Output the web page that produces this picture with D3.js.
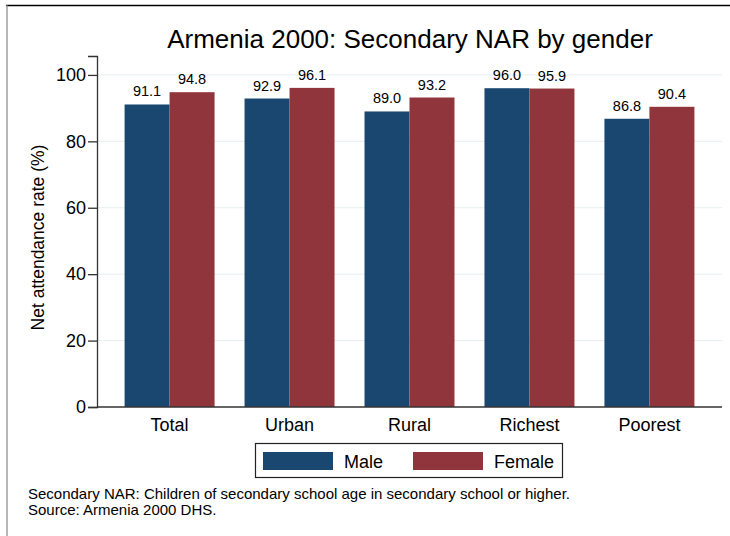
<!DOCTYPE html>
<html>
<head>
<meta charset="utf-8">
<script src="https://cdn.jsdelivr.net/npm/d3@7"></script>
<style>
  body { margin: 0; background: #fff; }
  svg { display: block; font-family: "Liberation Sans", Arial, sans-serif; }
</style>
</head>
<body>
<svg id="chart" width="730" height="536"></svg>
<script>
// data
const categories = ["Total", "Urban", "Rural", "Richest", "Poorest"];
const seriesNames = ["Male", "Female"];
const maleValues = [91.1, 92.9, 89.0, 96.0, 86.8];
const femaleValues = [94.8, 96.1, 93.2, 95.9, 90.4];
const yTicks = [0, 20, 40, 60, 80, 100];
const titleText = "Armenia 2000: Secondary NAR by gender";
const yLabel = "Net attendance rate (%)";
const notes = [
  "Secondary NAR: Children of secondary school age in secondary school or higher.",
  "Source: Armenia 2000 DHS."
];

const colors = { Male: "#1a476f", Female: "#90353b" };
const width = 730, height = 536;
const plot = { left: 97, right: 722, top: 56, bottom: 407 };

const svg = d3.select("#chart");

// outer frame (cropped stata border)
svg.append("line").attr("x1", 6).attr("x2", 730).attr("y1", 5.5).attr("y2", 5.5)
  .attr("stroke", "#000").attr("stroke-width", 1.5);
svg.append("line").attr("x1", 7).attr("x2", 7).attr("y1", 5).attr("y2", 536)
  .attr("stroke", "#888").attr("stroke-width", 1.2);

const x = d3.scaleBand().domain(categories)
  .range([plot.left, plot.right]).paddingInner(0.25).paddingOuter(0.23);
const xs = d3.scaleBand().domain(seriesNames).range([0, x.bandwidth()]);
const y = d3.scaleLinear().domain([0, 105.7]).range([plot.bottom, plot.top]);

// gridlines
svg.append("g").selectAll("line")
  .data(yTicks.filter(d => d > 0))
  .join("line")
  .attr("x1", plot.left).attr("x2", plot.right)
  .attr("y1", d => y(d)).attr("y2", d => y(d))
  .attr("stroke", "#e6eff2").attr("stroke-width", 1);

// bars
const rows = categories.map((c, i) => ({ cat: c, Male: maleValues[i], Female: femaleValues[i] }));
const groups = svg.append("g").selectAll("g")
  .data(rows).join("g")
  .attr("transform", d => `translate(${x(d.cat)},0)`);

groups.selectAll("rect")
  .data(d => seriesNames.map(s => ({ s, v: d[s] })))
  .join("rect")
  .attr("x", d => xs(d.s))
  .attr("width", xs.bandwidth())
  .attr("y", d => y(d.v))
  .attr("height", d => y(0) - y(d.v))
  .attr("fill", d => colors[d.s]);

groups.selectAll("text")
  .data(d => seriesNames.map(s => ({ s, v: d[s] })))
  .join("text")
  .attr("x", d => xs(d.s) + xs.bandwidth() / 2)
  .attr("y", d => y(d.v) - 8)
  .attr("text-anchor", "middle")
  .attr("font-size", 14.5)
  .text(d => d.v.toFixed(1));

// y axis
const yAxis = svg.append("g")
  .attr("transform", `translate(${plot.left},0)`)
  .call(d3.axisLeft(y).tickValues(yTicks).tickSize(9).tickPadding(2));
yAxis.select(".domain").attr("stroke", "#333").attr("stroke-width", 1.3);
yAxis.selectAll(".tick line").attr("stroke", "#333").attr("stroke-width", 1.3);
yAxis.selectAll(".tick text").attr("font-size", 18).attr("fill", "#000")
  .attr("font-family", "Liberation Sans, Arial, sans-serif");

// x axis
const xAxis = svg.append("g")
  .attr("transform", `translate(0,${plot.bottom})`)
  .call(d3.axisBottom(x).tickSize(0).tickPadding(11).tickSizeOuter(0));
xAxis.select(".domain").attr("stroke", "#333").attr("stroke-width", 1.5)
  .attr("d", `M${plot.left},0H${plot.right}`);
xAxis.selectAll(".tick text").attr("font-size", 18).attr("fill", "#000")
  .attr("font-family", "Liberation Sans, Arial, sans-serif")
  .attr("dy", "0.71em");

// title
svg.append("text")
  .attr("x", 410).attr("y", 48)
  .attr("text-anchor", "middle")
  .attr("font-size", 26)
  .text(titleText);

// y label
svg.append("text")
  .attr("transform", `translate(44,${(plot.top + plot.bottom) / 2 + 6}) rotate(-90)`)
  .attr("text-anchor", "middle")
  .attr("font-size", 17.5)
  .text(yLabel);

// legend
const legend = svg.append("g");
legend.append("rect")
  .attr("x", 255.5).attr("y", 443.5).attr("width", 307).attr("height", 34)
  .attr("fill", "#fff").attr("stroke", "#222").attr("stroke-width", 1.2);
const legendX = d3.scaleOrdinal().domain(seriesNames).range([263, 413]);
const items = legend.selectAll("g.item").data(seriesNames).join("g")
  .attr("class", "item")
  .attr("transform", d => `translate(${legendX(d)},452)`);
items.append("rect").attr("width", 70).attr("height", 18).attr("fill", d => colors[d]);
items.append("text").attr("x", 81).attr("y", 16).attr("font-size", 18).text(d => d);

// notes
svg.append("g").selectAll("text").data(notes).join("text")
  .attr("x", 28).attr("y", (d, i) => 499 + i * 15.5)
  .attr("font-size", 15)
  .text(d => d);
</script>
</body>
</html>
